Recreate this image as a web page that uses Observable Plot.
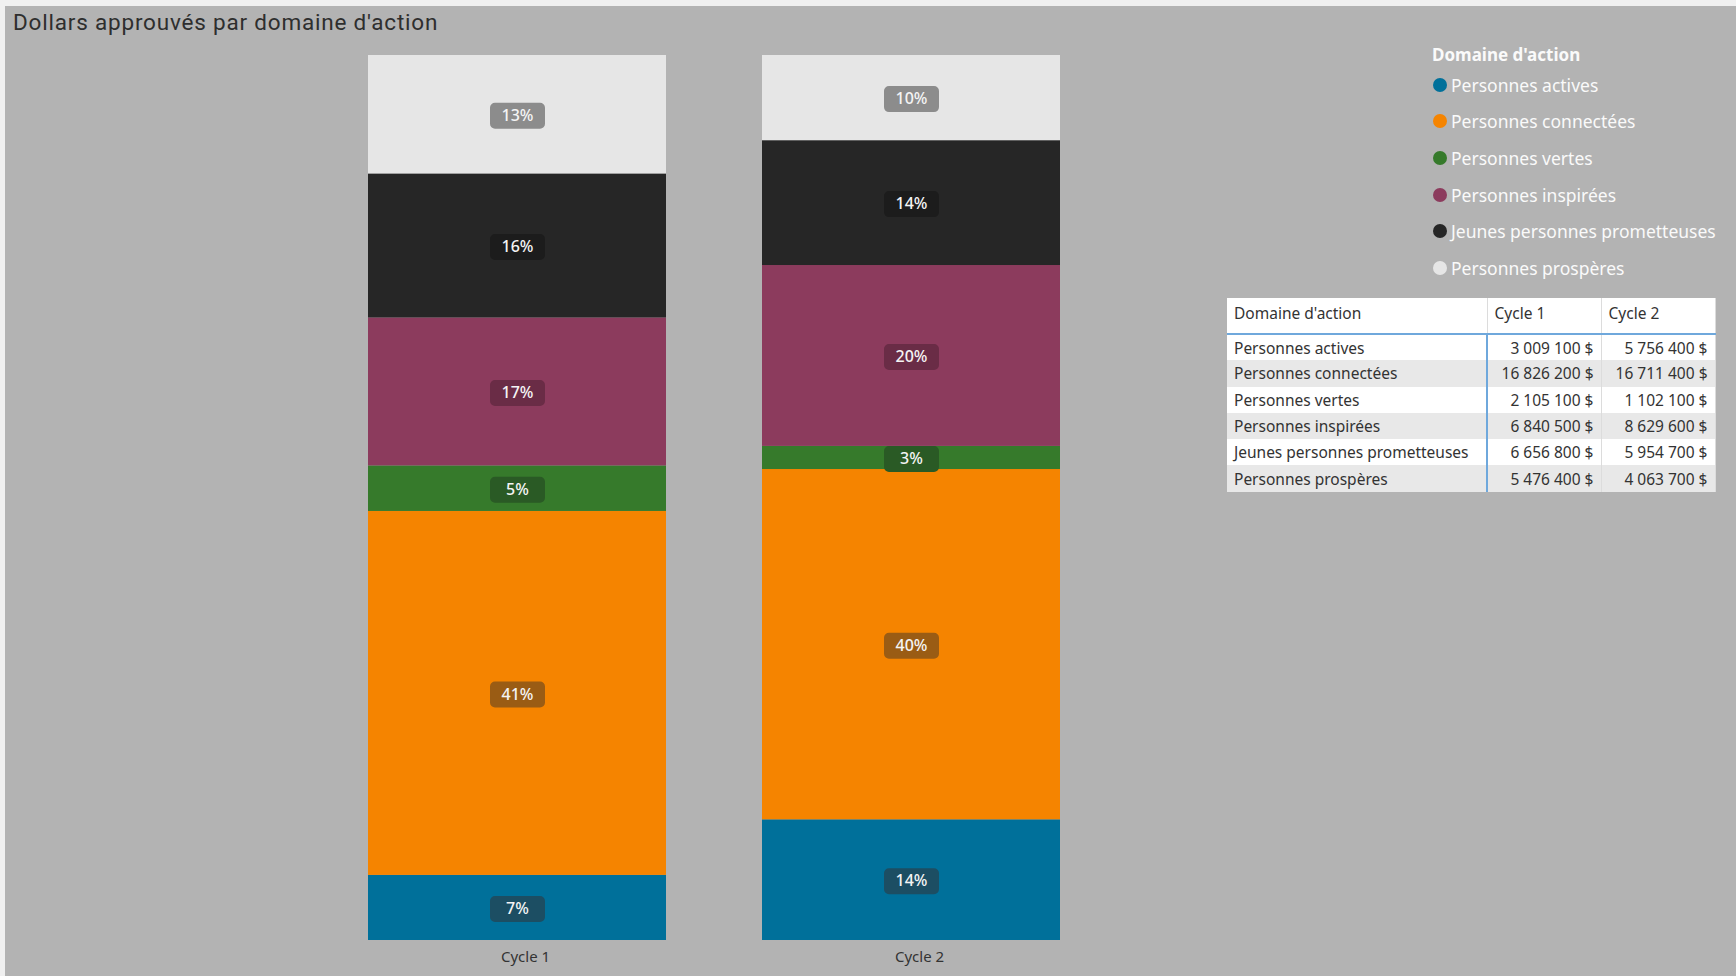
<!DOCTYPE html>
<html>
<head>
<meta charset="utf-8">
<script src="https://cdn.jsdelivr.net/npm/d3@7"></script>
<script src="https://cdn.jsdelivr.net/npm/@observablehq/plot@0.6"></script>
<style>
  html, body { margin: 0; padding: 0; }
  body { width: 1736px; height: 976px; overflow: hidden; background: #f0f0f0; position: relative; font-family: "Noto Sans", "Open Sans", sans-serif; }
  #panel { position: absolute; left: 5px; top: 6px; right: 0; bottom: 0; background: #b3b3b3; }
  #title { position: absolute; left: 13px; top: 9px; font-family: Roboto, "DejaVu Sans", sans-serif; font-weight: 400; font-size: 22.5px; line-height: 26px; color: #2e2e2e; letter-spacing: 0.8px; }
  #chart { position: absolute; left: 0; top: 0; }
  #legend { position: absolute; left: 1432px; top: 42px; color: #fafafa; }
  #legend .ttl { font-weight: 700; font-size: 17px; line-height: 26px; height: 26px; }
  #legend .item { position: absolute; left: 0; white-space: nowrap; font-size: 17.5px; line-height: 24px; height: 24px; }
  #legend .dot { position: absolute; left: 1px; top: 5px; width: 14px; height: 14px; border-radius: 50%; }
  #legend .lab { position: absolute; left: 19px; top: 0; }
  #tbl { position: absolute; left: 1227px; top: 298px; width: 488px; border-collapse: collapse; font-size: 15.5px; color: #333; background: #fff; table-layout: fixed; }
  #tbl th { font-weight: 400; text-align: left; height: 36px; padding: 0 7px 6px 7px; border-bottom: 2px solid #6fa8dc; border-right: 1px solid #dcdcdc; box-sizing: border-box; }
  #tbl td { height: 26.3px; padding: 0 7px; white-space: nowrap; box-sizing: border-box; border-right: 1px solid #dcdcdc; }
  #tbl td.name { border-right: 2px solid #6fa8dc; }
  #tbl td.num { text-align: right; }
  #tbl tr.alt td { background: #e8e8e8; }
</style>
</head>
<body>
<div id="panel"></div>
<div id="chart"></div>
<div id="title">Dollars approuvés par domaine d'action</div>
<div id="legend"></div>
<table id="tbl"></table>
<script>
// ---- data ----
const cycles = ["Cycle 1", "Cycle 2"];
const domaines = [
  "Personnes actives",
  "Personnes connectées",
  "Personnes vertes",
  "Personnes inspirées",
  "Jeunes personnes prometteuses",
  "Personnes prospères"
];
const cycle1 = [3009100, 16826200, 2105100, 6840500, 6656800, 5476400];
const cycle2 = [5756400, 16711400, 1102100, 8629600, 5954700, 4063700];
const legendTitle = "Domaine d'action";
const tableHeaders = ["Domaine d'action", "Cycle 1", "Cycle 2"];

// ---- styles ----
const colors = ["#00709a", "#f58400", "#367a2b", "#8c3b5d", "#262626", "#e6e6e6"];
const boxColors = ["#1c4e63", "#9a5c14", "#2a5a25", "#6a2c46", "#1c1c1c", "#8c8c8c"];

// ---- build table of rows ----
const series = [cycle1, cycle2];
const totals = series.map(s => d3.sum(s));
const rows = [];
cycles.forEach((c, ci) => {
  domaines.forEach((d, di) => {
    rows.push({cycle: c, domaine: d, value: series[ci][di], pct: series[ci][di] / totals[ci], color: colors[di], box: boxColors[di]});
  });
});

// rounded rectangle symbol for label backgrounds
const W = 55, H = 26, R = 5;
const roundRect = {
  draw(ctx) {
    const x0 = -W / 2, y0 = -H / 2, x1 = W / 2, y1 = H / 2;
    ctx.moveTo(x0 + R, y0);
    ctx.lineTo(x1 - R, y0);
    ctx.arcTo(x1, y0, x1, y0 + R, R);
    ctx.lineTo(x1, y1 - R);
    ctx.arcTo(x1, y1, x1 - R, y1, R);
    ctx.lineTo(x0 + R, y1);
    ctx.arcTo(x0, y1, x0, y1 - R, R);
    ctx.lineTo(x0, y0 + R);
    ctx.arcTo(x0, y0, x0 + R, y0, R);
    ctx.closePath();
  }
};

const stackOpts = {x: "cycle", y: "value", z: "domaine", offset: "normalize", order: domaines};

const plot = Plot.plot({
  width: 1736,
  height: 976,
  marginLeft: 367,
  marginRight: 675,
  marginTop: 55,
  marginBottom: 36,
  style: {background: "transparent", fontFamily: "'Noto Sans', 'Open Sans', sans-serif", overflow: "visible"},
  x: {domain: cycles, paddingInner: 0.243, paddingOuter: 0, label: null, axis: null},
  y: {domain: [0, 1], axis: null},
  color: {type: "identity"},
  marks: [
    Plot.barY(rows, Plot.stackY({...stackOpts, fill: "color"})),
    Plot.dot(rows, Plot.stackY({...stackOpts, fill: "box", symbol: roundRect, r: 1, dy: 1})),
    Plot.text(rows, Plot.stackY({...stackOpts, text: d => Math.round(d.pct * 100) + "%", fill: "#f4f4f4", fontSize: 16, fontWeight: 500, dy: 1})),
    Plot.axisX({tickSize: 0, tickPadding: 11, fontSize: 15, dx: 8, color: "#333", label: null})
  ]
});
document.getElementById("chart").appendChild(plot);

// ---- legend ----
const leg = document.getElementById("legend");
const t = document.createElement("div");
t.className = "ttl";
t.textContent = legendTitle;
leg.appendChild(t);
const itemTops = [31, 67, 104, 141, 177, 214];
domaines.forEach((d, i) => {
  const it = document.createElement("div");
  it.className = "item";
  it.style.top = itemTops[i] + "px";
  const dot = document.createElement("span");
  dot.className = "dot";
  dot.style.background = colors[i];
  const lab = document.createElement("span");
  lab.className = "lab";
  lab.textContent = d;
  it.appendChild(dot);
  it.appendChild(lab);
  leg.appendChild(it);
});

// ---- table ----
const fmt = v => d3.format(",")(v).replace(/,/g, " ") + " $";
const tbl = document.getElementById("tbl");
const colg = document.createElement("colgroup");
[260, 114, 114].forEach(w => { const c = document.createElement("col"); c.style.width = w + "px"; colg.appendChild(c); });
tbl.appendChild(colg);
const thead = document.createElement("thead");
const hr = document.createElement("tr");
tableHeaders.forEach(h => { const th = document.createElement("th"); th.textContent = h; hr.appendChild(th); });
thead.appendChild(hr);
tbl.appendChild(thead);
const tbody = document.createElement("tbody");
domaines.forEach((d, i) => {
  const tr = document.createElement("tr");
  if (i % 2 === 1) tr.className = "alt";
  const n = document.createElement("td"); n.className = "name"; n.textContent = d; tr.appendChild(n);
  [cycle1[i], cycle2[i]].forEach(v => { const td = document.createElement("td"); td.className = "num"; td.textContent = fmt(v); tr.appendChild(td); });
  tbody.appendChild(tr);
});
tbl.appendChild(tbody);
</script>
</body>
</html>
